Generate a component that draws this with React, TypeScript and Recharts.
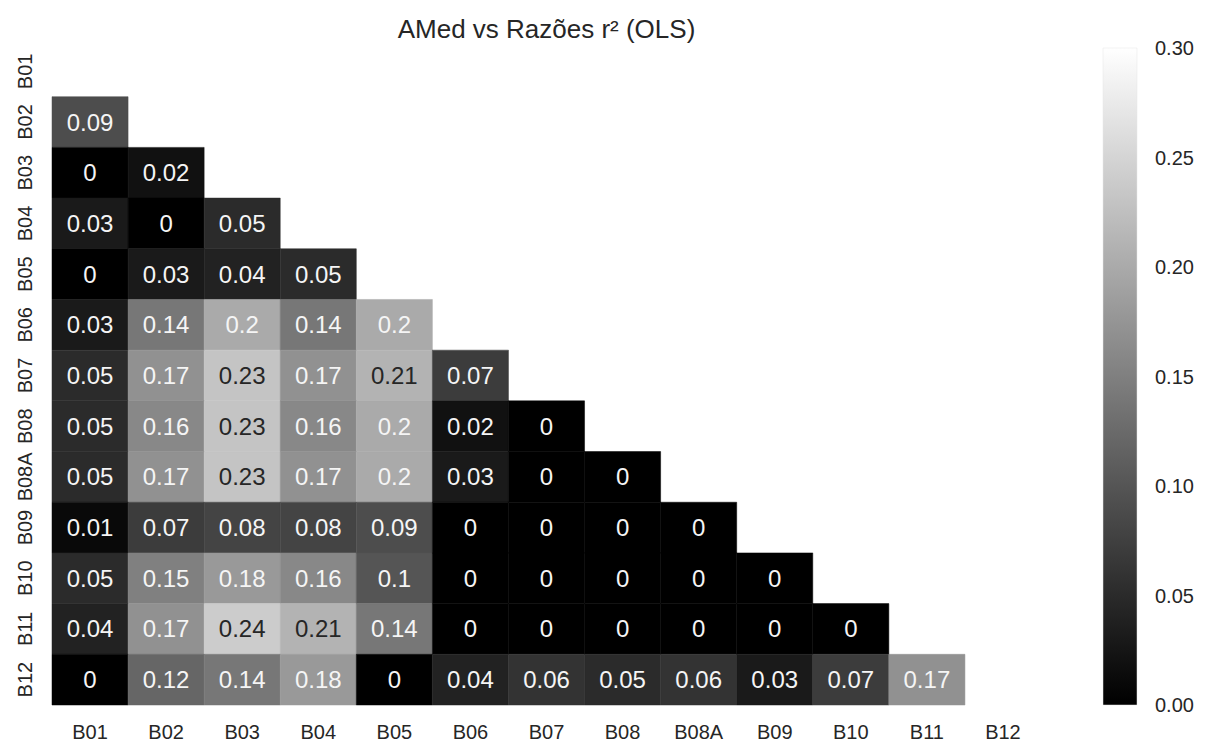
import React from 'react';
import { ComposedChart, XAxis, YAxis, ReferenceArea, Scatter } from 'recharts';

// band names, used for both axes
const bands = ['B01', 'B02', 'B03', 'B04', 'B05', 'B06', 'B07', 'B08', 'B08A', 'B09', 'B10', 'B11', 'B12'];

// lower triangle of r² values, row by row (row B02 .. B12, columns B01 ..)
const rowB02 = [0.09];
const rowB03 = [0, 0.02];
const rowB04 = [0.03, 0, 0.05];
const rowB05 = [0, 0.03, 0.04, 0.05];
const rowB06 = [0.03, 0.14, 0.2, 0.14, 0.2];
const rowB07 = [0.05, 0.17, 0.23, 0.17, 0.21, 0.07];
const rowB08 = [0.05, 0.16, 0.23, 0.16, 0.2, 0.02, 0];
const rowB08A = [0.05, 0.17, 0.23, 0.17, 0.2, 0.03, 0, 0];
const rowB09 = [0.01, 0.07, 0.08, 0.08, 0.09, 0, 0, 0, 0];
const rowB10 = [0.05, 0.15, 0.18, 0.16, 0.1, 0, 0, 0, 0, 0];
const rowB11 = [0.04, 0.17, 0.24, 0.21, 0.14, 0, 0, 0, 0, 0, 0];
const rowB12 = [0, 0.12, 0.14, 0.18, 0, 0.04, 0.06, 0.05, 0.06, 0.03, 0.07, 0.17];

const rows: number[][] = [[], rowB02, rowB03, rowB04, rowB05, rowB06, rowB07, rowB08, rowB08A, rowB09, rowB10, rowB11, rowB12];

const colorbarTicks = [0, 0.05, 0.1, 0.15, 0.2, 0.25, 0.3];
const vmax = 0.3;

const FONT = '"Liberation Sans", Arial, sans-serif';
const TEXT = '#262626';

// gray colormap
const grayOf = (v: number) => {
  const g = Math.round((Math.min(v, vmax) / vmax) * 255);
  return { hex: `rgb(${g},${g},${g})`, g };
};

// seaborn picks dark text when the cell is light enough
const textColorOf = (g: number) => {
  const c = g / 255;
  const lin = c <= 0.03928 ? c / 12.92 : Math.pow((c + 0.055) / 1.055, 2.4);
  return lin > 0.408 ? TEXT : '#f5f5f5';
};

const cells = rows.flatMap((vals, r) =>
  vals.map((v, c) => ({ row: r, col: c, value: v, x: c + 0.5, y: r + 0.5 })),
);

const axisTicks = bands.map((_, i) => i + 0.5);

const YTick = (props: any) => {
  const { x, y, payload } = props;
  const label = bands[Math.floor(payload.value)];
  const tx = x - 25;
  return (
    <text
      x={tx}
      y={y}
      transform={`rotate(-90, ${tx}, ${y})`}
      textAnchor="middle"
      dominantBaseline="central"
      fill={TEXT}
      fontSize={20}
      fontFamily={FONT}
    >
      {label}
    </text>
  );
};

// annotation text drawn at each cell centre
const CellLabel = (props: any) => {
  const { cx, cy, payload } = props;
  if (cx == null || cy == null) return null;
  const { g } = grayOf(payload.value);
  return (
    <text
      x={cx}
      y={cy}
      textAnchor="middle"
      dominantBaseline="central"
      fill={textColorOf(g)}
      fontSize={24}
      fontFamily={FONT}
    >
      {String(payload.value)}
    </text>
  );
};

const cbData = [{ x: 0, v: 0 }, { x: 1, v: vmax }];

export default function App() {
  return (
    <div style={{ position: 'absolute', left: 0, top: 0, width: 1207, height: 742, background: '#fff', fontFamily: FONT }}>
      <div
        style={{
          position: 'absolute',
          left: 52,
          width: 989,
          top: 14,
          textAlign: 'center',
          fontSize: 26,
          color: TEXT,
          lineHeight: '30px',
        }}
      >
        AMed vs Razões r² (OLS)
      </div>

      <div style={{ position: 'absolute', left: 0, top: 0 }}>
        <ComposedChart
          width={1207}
          height={742}
          data={cells}
          margin={{ top: 46, right: 166, bottom: 0, left: 0 }}
        >
          <XAxis
            type="number"
            dataKey="x"
            domain={[0, 13]}
            ticks={axisTicks}
            interval={0}
            tickFormatter={(v: number) => bands[Math.floor(v)]}
            axisLine={false}
            tickLine={false}
            tickSize={0}
            tickMargin={20}
            height={37}
            tick={{ fill: TEXT, fontSize: 20, fontFamily: FONT }}
          />
          <YAxis
            type="number"
            dataKey="y"
            domain={[0, 13]}
            reversed
            ticks={axisTicks}
            interval={0}
            axisLine={false}
            tickLine={false}
            tickSize={0}
            width={52}
            tick={<YTick />}
          />
          {cells.map((c) => {
            const { hex } = grayOf(c.value);
            return (
              <ReferenceArea
                key={`${c.row}-${c.col}`}
                x1={c.col}
                x2={c.col + 1}
                y1={c.row}
                y2={c.row + 1}
                fill={hex}
                fillOpacity={1}
                stroke={hex}
                strokeWidth={0.5}
                ifOverflow="visible"
              />
            );
          })}
          <Scatter data={cells} dataKey="y" shape={<CellLabel />} isAnimationActive={false} />
        </ComposedChart>
      </div>

      <div style={{ position: 'absolute', left: 1090, top: 0 }}>
        <ComposedChart
          width={117}
          height={742}
          data={cbData}
          margin={{ top: 48, right: 0, bottom: 37, left: 13 }}
        >
          <defs>
            <linearGradient id="cbGray" x1="0" y1="1" x2="0" y2="0">
              <stop offset="0%" stopColor="#000000" />
              <stop offset="100%" stopColor="#ffffff" />
            </linearGradient>
          </defs>
          <XAxis type="number" dataKey="x" domain={[0, 1]} hide />
          <YAxis
            type="number"
            dataKey="v"
            orientation="right"
            domain={[0, vmax]}
            ticks={colorbarTicks}
            interval={0}
            tickFormatter={(v: number) => v.toFixed(2)}
            axisLine={false}
            tickLine={false}
            tickSize={0}
            tickMargin={18}
            width={70}
            tick={{ fill: TEXT, fontSize: 20, fontFamily: FONT }}
          />
          <ReferenceArea
            x1={0}
            x2={1}
            y1={0}
            y2={vmax}
            fill="url(#cbGray)"
            fillOpacity={1}
            stroke="#e4e4e4"
            strokeWidth={0.5}
            ifOverflow="visible"
          />
          <Scatter data={cbData} dataKey="v" shape={() => null} isAnimationActive={false} />
        </ComposedChart>
      </div>
    </div>
  );
}
